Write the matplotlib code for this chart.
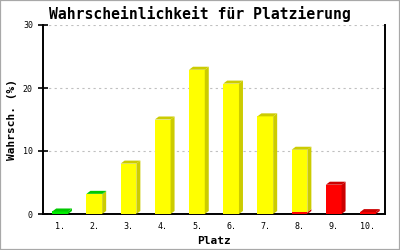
import matplotlib

matplotlib.use("Agg")
import matplotlib.pyplot as plt
from matplotlib.patches import Polygon, Rectangle

# chart data (percent per place), stacked red / yellow / green
places = ["1.", "2.", "3.", "4.", "5.", "6.", "7.", "8.", "9.", "10."]
red = [0, 0, 0, 0, 0, 0, 0, 0.3, 4.65, 0.3]
yellow = [0, 3.1, 8.0, 15.0, 22.9, 20.7, 15.5, 9.9, 0, 0]
green = [0.4, 0.1, 0, 0, 0, 0, 0, 0, 0, 0]

series = [
    (red, "#ff0000", "#cc0000"),
    (yellow, "#ffff00", "#cccc00"),
    (green, "#00ee00", "#00c800"),
]

W, H = 400, 250
fig = plt.figure(figsize=(W / 100, H / 100), dpi=100)
ax_l, ax_b, ax_w, ax_h = 43, 36, 342, 189
ax = fig.add_axes([ax_l / W, ax_b / H, ax_w / W, ax_h / H])

ymax = 30
ax.set_xlim(-0.5, len(places) - 0.5)
ax.set_ylim(0, ymax)

# 3d depth in data units (4 px right, 3 px up)
dx = 4 * len(places) / ax_w
dy = 3 * ymax / ax_h
bw = 0.46

bottoms = [0.0] * len(places)
tops = [r + y + g for r, y, g in zip(red, yellow, green)]
for values, front, shade in series:
    for i, v in enumerate(values):
        if v <= 0:
            continue
        b = bottoms[i]
        t = b + v
        x0, x1 = i - bw / 2, i + bw / 2
        ax.add_patch(Rectangle((x0, b), bw, v, facecolor=front, edgecolor="none", zorder=3))
        ax.add_patch(Polygon([(x1, b), (x1 + dx, b + dy), (x1 + dx, t + dy), (x1, t)],
                             closed=True, facecolor=shade, edgecolor="none", zorder=3))
        if abs(t - tops[i]) < 1e-9:
            ax.add_patch(Polygon([(x0, t), (x0 + dx, t + dy), (x1 + dx, t + dy), (x1, t)],
                                 closed=True, facecolor=shade, edgecolor="none", zorder=3))
        bottoms[i] = t

mono = "DejaVu Sans Mono"
ax.set_yticks([0, 10, 20, 30])
ax.set_xticks(range(len(places)))
ax.set_xticklabels(places)
ax.tick_params(axis="x", length=0, pad=6, labelsize=6)
ax.tick_params(axis="y", direction="inout", length=6.5, width=1.2, pad=4, labelsize=6)
for lab in ax.get_xticklabels() + ax.get_yticklabels():
    lab.set_family(mono)

ax.yaxis.grid(True, color="#c0c0c0", linestyle=(0, (2, 3)), linewidth=0.8)
ax.set_axisbelow(True)
ax.spines["top"].set_visible(False)
for s in ("left", "right", "bottom"):
    ax.spines[s].set_linewidth(1.4)
    ax.spines[s].set_color("black")

ax.set_xlabel("Platz", family=mono, fontweight="bold", fontsize=8, labelpad=3)
ax.set_ylabel("Wahrsch. (%)", family=mono, fontweight="bold", fontsize=8, labelpad=4)
fig.text(0.5, 1 - 14 / H, "Wahrscheinlichkeit für Platzierung", family=mono,
         fontweight="bold", fontsize=10.6, ha="center", va="center")

fig.patches.append(Rectangle((0, 0), 1, 1, transform=fig.transFigure, fill=False,
                             edgecolor="#a8a8a8", linewidth=1.6))

fig.savefig("out.png", dpi=100)
